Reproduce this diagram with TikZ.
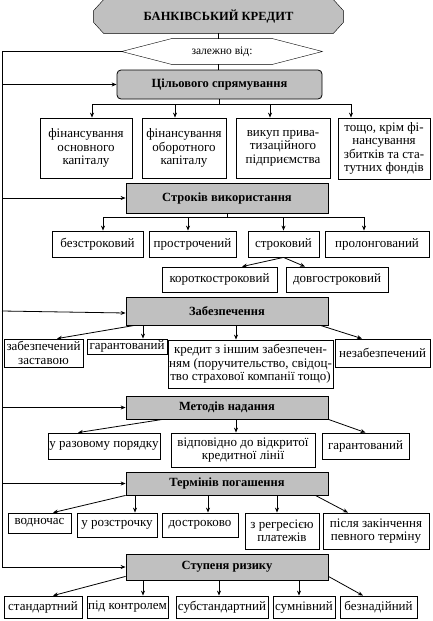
\documentclass[tikz,border=0pt]{standalone}
\usepackage{fontspec}
\setmainfont{Liberation Serif}
\usetikzlibrary{arrows.meta,backgrounds}
\definecolor{catgray}{RGB}{192,192,192}
\tikzset{
  cat/.style={draw, fill=catgray, font=\fontsize{12.5}{14}\selectfont\bfseries, minimum width=202pt, inner sep=1pt},
  leaf/.style={draw, fill=white, align=center, font=\fontsize{13}{13.5}\selectfont, inner sep=1pt},
  arr/.style={-{Stealth[length=5pt,width=4pt]}},
}
\begin{document}
\begin{tikzpicture}[x=1pt, y=-1pt, line width=0.8pt]
    \useasboundingbox (0,0) rectangle (432,621);

    % Кредит
    \node[font=\fontsize{12.5}{14}\selectfont\bfseries, minimum width=249pt, minimum height=33pt] (bank) at (218.5,16.5) {БАНКІВСЬКИЙ КРЕДИТ};
    \node[font=\fontsize{11.5}{13}\selectfont, minimum width=200pt, minimum height=25pt] (dep) at (222,51.5) {залежно від:};
    \coordinate (spine) at (2,567);

    % Ознаки
    \node[cat, minimum width=205pt, minimum height=29pt, rounded corners=4pt] (cel) at (219.5,84.5) {Цільового спрямування};
    \node[cat, minimum height=30pt] (stro) at (227,198) {Строків використання};
    \node[cat, minimum height=28pt] (z) at (227,311) {Забезпечення};
    \node[cat, minimum height=23pt] (m) at (227,407.5) {Методів надання};
    \node[cat, minimum height=23pt] (t) at (227,483.5) {Термінів погашення};
    \node[cat, minimum height=26pt] (r) at (227,567) {Ступеня ризику};

    % Цільового спрямування
    \node[leaf, minimum width=92pt, minimum height=60pt] (k1) at (86,148) {фінансування\\основного\\капіталу};
    \node[leaf, minimum width=84pt, minimum height=60pt] (k2) at (184,148) {фінансування\\оборотного\\капіталу};
    \node[leaf, minimum width=94pt, minimum height=60pt] (k3) at (283,148) {викуп прива-\\тизаційного\\підприємства};
    \node[leaf, minimum width=92pt, minimum height=61pt] (k4) at (384,148.5) {тощо, крім фі-\\нансування\\збитків та ста-\\тутних фондів};

    % Строків використання
    \node[leaf, minimum width=91pt, minimum height=26pt] (s1) at (97.5,244) {безстроковий};
    \node[leaf, minimum width=87pt, minimum height=26pt] (s2) at (192.5,244) {прострочений};
    \node[leaf, minimum width=71pt, minimum height=26pt] (s3) at (283.5,244) {строковий};
    \node[leaf, minimum width=104pt, minimum height=26pt] (s4) at (377,244) {пролонгований};
    \node[leaf, minimum width=115pt, minimum height=25pt] (kor) at (219.5,279.5) {короткостроковий};
    \node[leaf, minimum width=102pt, minimum height=25pt] (dov) at (337,279.5) {довгостроковий};

    % Забезпечення
    \node[leaf, minimum width=79pt, minimum height=28pt] (z1) at (43.5,353) {забезпечений\\заставою};
    \node[leaf, minimum width=80pt, minimum height=15pt] (z2) at (127,346.5) {гарантований};
    \node[leaf, minimum width=165pt, minimum height=48pt] (z3) at (250.5,364) {кредит з іншим забезпечен-\\ням (поручительство, свідоц-\\тво страхової компанії тощо)};
    \node[leaf, minimum width=95pt, minimum height=28pt] (z4) at (382.5,353) {незабезпечений};

    % Методів надання
    \node[leaf, minimum width=112pt, minimum height=26pt] (m1) at (104,446) {у разовому порядку};
    \node[leaf, minimum width=144pt, minimum height=34pt] (m2) at (243,450) {відповідно до відкритої\\кредитної лінії};
    \node[leaf, minimum width=87pt, minimum height=26pt] (m3) at (365.5,446) {гарантований};

    % Термінів погашення
    \node[leaf, minimum width=63pt, minimum height=20pt] (t1) at (39.5,523) {водночас};
    \node[leaf, minimum width=80pt, minimum height=24pt] (t2) at (117,525) {у розстрочку};
    \node[leaf, minimum width=76pt, minimum height=24pt] (t3) at (200,525) {достроково};
    \node[leaf, minimum width=74pt, minimum height=36pt] (t4) at (282,531) {з регресією\\платежів};
    \node[leaf, minimum width=106pt, minimum height=36pt] (t5) at (376,531) {після закінчення\\певного терміну};

    % Ступеня ризику
    \node[leaf, minimum width=78pt, minimum height=22pt] (r1) at (43,607) {стандартний};
    \node[leaf, minimum width=81pt, minimum height=22pt] (r2) at (127.5,607) {під контролем};
    \node[leaf, minimum width=92pt, minimum height=22pt] (r3) at (222,607) {субстандартний};
    \node[leaf, minimum width=62pt, minimum height=22pt] (r4) at (304,607) {сумнівний};
    \node[leaf, minimum width=77pt, minimum height=22pt] (r5) at (378.5,607) {безнадійний};

    % Рамки голови
    \begin{scope}[on background layer]
        \draw[fill=catgray] ([xshift=10]bank.north west) -- ([xshift=-10]bank.north east) -- ([yshift=-11]bank.north east) -- ([yshift=11]bank.south east) -- ([xshift=-10]bank.south east) -- ([xshift=10]bank.south west) -- ([yshift=11]bank.south west) -- ([yshift=-11]bank.north west) -- cycle;
        \draw[fill=white] (dep.west) -- ([xshift=50]dep.north west) -- ([xshift=-50]dep.north east) -- (dep.east) -- ([xshift=-50]dep.south east) -- ([xshift=50]dep.south west) -- cycle;
    \end{scope}

    % Лінії
    \draw (bank.south) -- (bank.south |- dep.north);
    \draw (bank.south |- dep.south) -- (bank.south |- cel.north);
    \draw[arr] (dep.west) -| (spine) -- (r.west);
    \draw[arr] (spine |- cel.west) -- (cel.west);
    \draw[arr] (spine |- stro.west) -- (stro.west);
    \draw[arr] (spine |- z.west) -- ([yshift=-2]z.west);
    \draw[arr] (spine |- m.west) -- (m.west);
    \draw[arr] (spine |- t.west) -- (t.west);

    \draw[arr] (cel.south) -- ++(0,5) -| ([xshift=6]k1.north);
    \draw[arr] (cel.south) -- ++(0,5) -| ([xshift=-9]k2.north);
    \draw[arr] (cel.south) -- ++(0,5) -| ([xshift=-13]k3.north);
    \draw[arr] (cel.south) -- ++(0,5) -| ([xshift=-33]k4.north);

    \draw[arr] (stro.south) -- ++(0,4) -| ([xshift=5.5]s1.north);
    \draw[arr] (stro.south) -- ++(0,4) -| ([xshift=-4.5]s2.north);
    \draw[arr] (stro.south) -- ++(0,4) -| (s3.north);
    \draw[arr] (stro.south) -- ++(0,4) -| ([xshift=-13]s4.north);
    \draw[arr] (s3.south) -- ([xshift=22.5]kor.north);
    \draw[arr] (s3.south) -- ([xshift=-32]dov.north);

    \draw[arr] ([xshift=9]z.south west) -- ([xshift=13.5]z1.north);
    \draw[arr] ([xshift=16]z2.north |- z.south) -- ([xshift=16]z2.north);
    \draw[arr] ([xshift=-14.5]z3.north |- z.south) -- ([xshift=-14.5]z3.north);
    \draw[arr] ([xshift=-8]z.south east) -- ([xshift=-20.5]z4.north);

    \draw[arr] ([xshift=37]m.south west) -- ([xshift=-26]m1.north);
    \draw[arr] ([xshift=-7]m2.north |- m.south) -- ([xshift=-7]m2.north);
    \draw[arr] (m.south east) -- (m3.north);

    \draw[arr] (t.south west) -- ([xshift=13.5]t1.north);
    \draw[arr] ([xshift=18]t2.north |- t.south) -- ([xshift=18]t2.north);
    \draw[arr] ([xshift=8]t3.north |- t.south) -- ([xshift=8]t3.north);
    \draw[arr] ([xshift=-5]t4.north |- t.south) -- ([xshift=-5]t4.north);
    \draw[arr] ([xshift=-13]t.south east) -- ([xshift=-28]t5.north);

    \draw[arr] ([yshift=4]r.south west) -- ([xshift=10]r1.north);
    \draw[arr] ([xshift=15.5]r2.north |- r.south) -- ([xshift=15.5]r2.north);
    \draw[arr] ([xshift=-3]r3.north |- r.south) -- ([xshift=-3]r3.north);
    \draw[arr] ([xshift=-5]r4.north |- r.south) -- ([xshift=-5]r4.north);
    \draw[arr] ([yshift=4]r.south east) -- ([xshift=-15.5]r5.north);
\end{tikzpicture}
\end{document}
